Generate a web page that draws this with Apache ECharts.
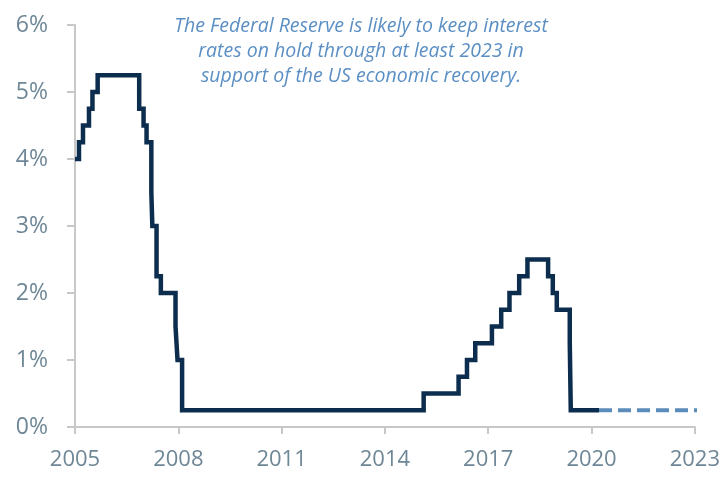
<!DOCTYPE html>
<html>
<head>
<meta charset="utf-8">
<script src="https://cdn.jsdelivr.net/npm/echarts@6/dist/echarts.min.js"></script>
<style>html,body{margin:0;padding:0;background:#fff}#c{width:723px;height:482px}</style>
</head>
<body>
<div id="c"></div>
<script>
// Rate history: each value holds from its date until the next date
var rateDates = [2005.0, 2005.116, 2005.232, 2005.406, 2005.507, 2005.658, 2006.864, 2006.991, 2007.078, 2007.217, 2007.246, 2007.368, 2007.493, 2007.919, 2007.977, 2008.110, 2015.125, 2016.139, 2016.383, 2016.623, 2017.107, 2017.377, 2017.617, 2017.899, 2018.139, 2018.739, 2018.875, 2018.991, 2019.368, 2019.397, 2020.217];
var rateValues = [4.0, 4.25, 4.5, 4.75, 5.0, 5.25, 4.75, 4.5, 4.25, 3.5, 3.0, 2.25, 2.0, 1.5, 1.0, 0.25, 0.5, 0.75, 1.0, 1.25, 1.5, 1.75, 2.0, 2.25, 2.5, 2.25, 2.0, 1.75, 1.25, 0.25, 0.25];
// Projection (dashed)
var projDates = [2020.217, 2023.165];
var projValues = [0.25, 0.25];
var xTicks = [2005, 2008, 2011, 2014, 2017, 2020, 2023];
var yTicks = [0, 1, 2, 3, 4, 5, 6];
var noteLines = ['The Federal Reserve is likely to keep interest', 'rates on hold through at least 2023 in', 'support of the US economic recovery.'];

var rateData = rateDates.map(function (d, i) { return [d, rateValues[i]]; });
var projData = projDates.map(function (d, i) { return [d, projValues[i]]; });

var chart = echarts.init(document.getElementById('c'));
var labelColor = '#6e8796';
chart.setOption({
  animation: false,
  grid: { left: 75, right: 27, top: 25, bottom: 55, containLabel: false },
  xAxis: {
    type: 'value', min: 2005, max: 2023, interval: 3,
    axisLine: { show: true, lineStyle: { color: '#c8c8c8', width: 2 } },
    axisTick: { show: true, length: 7, lineStyle: { color: '#c8c8c8', width: 2 } },
    splitLine: { show: false },
    axisLabel: { color: labelColor, fontSize: 22, fontFamily: 'Open Sans', margin: 22,
      formatter: function (v) { return xTicks.indexOf(v) >= 0 ? String(v) : ''; } }
  },
  yAxis: {
    type: 'value', min: 0, max: 6, interval: 1,
    axisLine: { show: true, lineStyle: { color: '#c8c8c8', width: 2 } },
    axisTick: { show: true, length: 8, lineStyle: { color: '#c8c8c8', width: 2 } },
    splitLine: { show: false },
    axisLabel: { color: labelColor, fontSize: 23, fontFamily: 'Open Sans', margin: 27,
      formatter: function (v) { return yTicks.indexOf(v) >= 0 ? v + '%' : ''; } }
  },
  graphic: [{
    type: 'text', x: 361, y: 14,
    style: {
      text: noteLines.join('\n'), textAlign: 'center', textVerticalAlign: 'top',
      fill: '#5b8fc4', font: 'italic 19.5px "Open Sans"', lineHeight: 25
    }
  }],
  series: [{
    type: 'line', data: rateData, step: 'end', symbol: 'none',
    lineStyle: { color: '#0c2d4d', width: 4.5, join: 'miter' }, z: 3
  }, {
    type: 'line', data: projData, symbol: 'none',
    lineStyle: { color: '#5b8cba', width: 4, type: [13, 6] }, z: 2
  }]
});
</script>
</body>
</html>
